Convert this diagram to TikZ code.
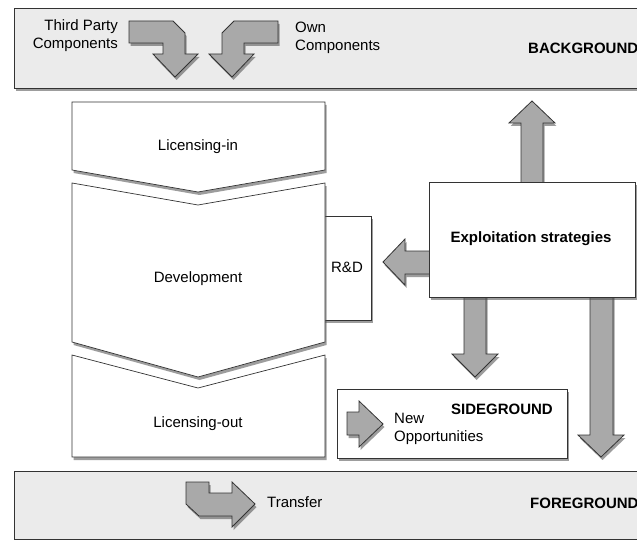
\documentclass[tikz,border=0pt]{standalone}
\usepackage{fontspec}
\setmainfont{Liberation Sans}
\usetikzlibrary{shadows}
\definecolor{panelgray}{HTML}{EBEBEB}
\definecolor{arrowgray}{HTML}{A9A9A9}
\definecolor{edgegray}{HTML}{333333}
\tikzset{
  softshadow/.style={drop shadow={shadow xshift=1.5pt, shadow yshift=-3pt, opacity=0.55, fill=black!70}},
  panel/.style={draw=edgegray, line width=0.9pt, fill=panelgray, softshadow},
  stagebox/.style={draw=edgegray, line width=0.7pt, fill=white, softshadow},
  blockarrow/.style={draw=edgegray, line width=0.8pt, fill=arrowgray, line join=miter, softshadow},
  txt/.style={font=\fontsize{15}{18}\selectfont, inner sep=0pt},
  heading/.style={font=\fontsize{15}{18}\selectfont\bfseries, inner sep=0pt}
}
\begin{document}
\begin{tikzpicture}[x=1pt, y=-1pt]
  \useasboundingbox (0,0) rectangle (637,540);
  \clip (0,0) rectangle (637,540);
  % grounds
  \draw[panel] (14,8) rectangle (660,88);
  \draw[panel] (14,471) rectangle (660,539.5);
  % components flowing in
  \draw[blockarrow] (129,21) -- (173,21) -- (185,33) -- (185,54) -- (198,54) -- (175,77)
    -- (153,54) -- (163,54) -- (163,43) -- (129,43) -- cycle;
  \draw[blockarrow] (278,21) -- (234,21) -- (222,33) -- (222,54) -- (209,54) -- (232,77)
    -- (254,54) -- (244,54) -- (244,43) -- (278,43) -- cycle;
  \node[txt, align=right, anchor=east] (thirdparty) at (118,36) {Third Party\\Components};
  \node[txt, align=left, anchor=west] (own) at (295,38) {Own\\Components};
  \node[heading, anchor=west] (bg) at (528,48) {BACKGROUND};
  % exploitation arrows
  \draw[blockarrow] (521,183) -- (521,123) -- (509,123) -- (532,101) -- (555,123) -- (543,123) -- (543,183) -- cycle;
  \draw[blockarrow] (431,251) -- (405,251) -- (405,239) -- (383,262) -- (405,285) -- (405,274) -- (431,274) -- cycle;
  \draw[blockarrow] (464,295) -- (464,354) -- (452,354) -- (475,377) -- (498,354) -- (486,354) -- (486,295) -- cycle;
  \draw[blockarrow] (590,295) -- (590,435) -- (578,435) -- (601,457) -- (624,435) -- (613,435) -- (613,295) -- cycle;
  \draw[stagebox] (429,182) rectangle (635,297);
  \node[heading] (exploit) at (531,239) {Exploitation strategies};
  % R&D and the stages
  \draw[stagebox] (320,216) rectangle (371,320);
  \node[txt] (rnd) at (347,267) {R\&D};
  \draw[stagebox] (72,102) -- (325,102) -- (325,170) -- (198,192) -- (72,170) -- cycle;
  \draw[stagebox] (72,183) -- (198,205) -- (325,183) -- (325,342) -- (198,377) -- (72,342) -- cycle;
  \draw[stagebox] (72,355) -- (198,388) -- (325,355) -- (325,457) -- (72,457) -- cycle;
  \node[txt] (licin) at (198,147) {Licensing-in};
  \node[txt] (dev) at (198,279) {Development};
  \node[txt] (licout) at (198,424) {Licensing-out};
  % sideground
  \draw[stagebox] (337,389) rectangle (567,458);
  \draw[blockarrow] (347,412) -- (359,412) -- (359,401) -- (383,424) -- (359,447) -- (359,435) -- (347,435) -- cycle;
  \node[heading, anchor=east] (side) at (553,409) {SIDEGROUND};
  \node[txt, align=left, anchor=west] (newopp) at (394,429) {New\\Opportunities};
  % foreground
  \draw[blockarrow] (186,482) -- (209,482) -- (209,493) -- (232,493) -- (232,482) -- (255,504) -- (232,527)
    -- (232,516) -- (199,516) -- (186,504) -- cycle;
  \node[txt, anchor=west] (transfer) at (267,502) {Transfer};
  \node[heading, anchor=west] (fg) at (530,503) {FOREGROUND};
\end{tikzpicture}
\end{document}
